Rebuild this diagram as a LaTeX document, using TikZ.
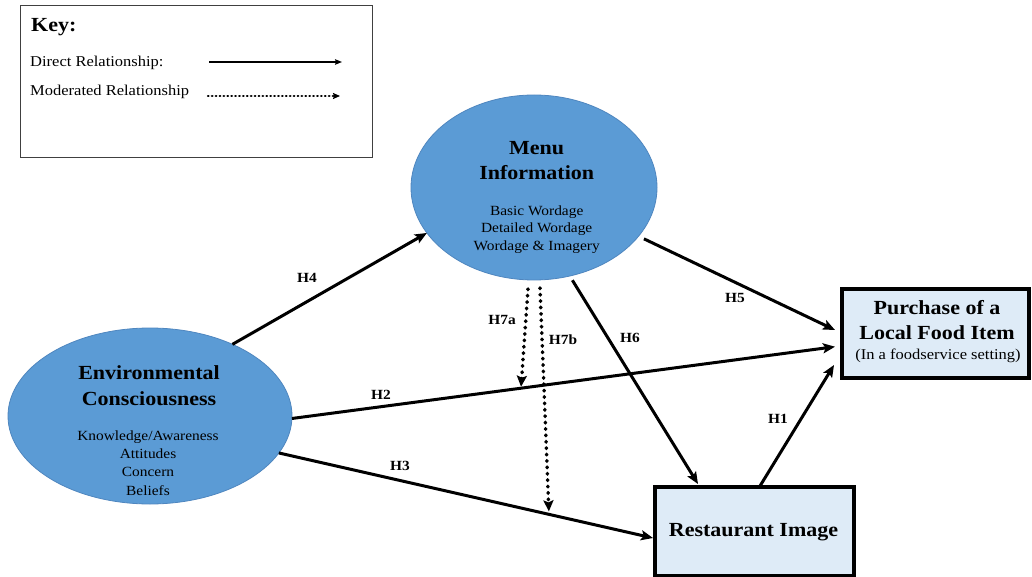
\documentclass[tikz,border=0pt]{standalone}
\usepackage{fontspec}
\setmainfont{Liberation Serif}[FakeStretch=1.1]
\usetikzlibrary{shapes.geometric,arrows.meta,calc}
\definecolor{ellfill}{HTML}{5B9BD5}
\definecolor{elldraw}{HTML}{4F86BF}
\definecolor{boxfill}{HTML}{DEEBF7}
\begin{document}
\begin{tikzpicture}[x=1pt,y=-1pt,
  ell/.style={ellipse, fill=ellfill, draw=elldraw, line width=0.8pt, inner sep=0pt, outer sep=0pt},
  box/.style={rectangle, fill=boxfill, draw=black, line width=3.2pt, inner sep=0pt, outer sep=0pt},
  keybox/.style={rectangle, draw=black!75, line width=1pt, inner sep=0pt, outer sep=0pt},
  ttl/.style={font=\fontsize{20}{25}\selectfont\bfseries, align=center, inner sep=0pt},
  subtxt/.style={font=\fontsize{14}{17.5}\selectfont, align=center, inner sep=0pt},
  hlab/.style={font=\fontsize{14}{14}\selectfont\bfseries, inner sep=0pt},
  keytxt/.style={font=\fontsize{15}{15}\selectfont, anchor=base west, inner sep=0pt},
  rel/.style={line width=3pt, -{Stealth[length=12pt,width=10pt,inset=2.5pt]}},
  mod/.style={line width=3.6pt, line cap=round, dash pattern=on 0.6pt off 5.8pt, -{Stealth[length=11pt,width=10pt,inset=2pt]}},
  keyrel/.style={line width=1.2pt, -{Stealth[length=7pt,width=5.5pt,inset=1pt]}},
  keymod/.style={line width=2.4pt, line cap=round, dash pattern=on 0.5pt off 3.4pt, -{Stealth[length=7pt,width=6pt,inset=1pt]}},
]
\useasboundingbox (0,0) rectangle (1032,577);

% Key
\node[keybox, minimum width=352pt, minimum height=152pt] (key) at (196.7,82) {};
\node[font=\fontsize{20}{20}\selectfont\bfseries, anchor=base west, inner sep=0pt] (keyttl) at (31,31.8) {Key:};
\node[keytxt] (keyd) at (30,66.5) {Direct Relationship:};
\node[keytxt] (keym) at (30,95.5) {Moderated Relationship};
\coordinate (kds) at (209,62);
\coordinate (kde) at (342,62);
\coordinate (kms) at (208,96);
\coordinate (kme) at (340,96);
\draw[keyrel] (kds) -- (kde);
\draw[keymod] (kms) -- (kme);

% Ellipses
\node[ell, minimum width=246pt, minimum height=185pt] (menu) at (534,187.5) {};
\node[ttl] (menuttl) at (536.7,160.5) {Menu\\Information};
\node[subtxt] (menusub) at (536.7,229.5) {Basic Wordage\\Detailed Wordage\\Wordage \& Imagery};

\node[ell, minimum width=284pt, minimum height=176pt] (env) at (150,416) {};
\node[ttl, font=\fontsize{20}{26.6}\selectfont\bfseries] (envttl) at (149,385.5) {Environmental\\Consciousness};
\node[subtxt, font=\fontsize{14}{18.3}\selectfont] (envsub) at (148,463) {Knowledge/Awareness\\Attitudes\\Concern\\Beliefs};

% Boxes
\node[box, minimum width=187pt, minimum height=89pt] (purchase) at (935.5,333.5) {};
\node[ttl, font=\fontsize{20}{24.3}\selectfont\bfseries] (purttl) at (937,320) {Purchase of a\\Local Food Item};
\node[font=\fontsize{15}{15}\selectfont, inner sep=0pt] (pursub) at (938,355.5) {(In a foodservice setting)};

\node[box, minimum width=199pt, minimum height=89pt] (rest) at (754.5,531.5) {};
\node[ttl] (restttl) at (753.5,531.7) {Restaurant Image};

% Direct relationships
\draw[rel] (env.41) -- (menu.203);
\draw[rel, shorten <=6pt] (menu.-25) -- ([shift={(-7,-3.5)}]purchase.west);
\draw[rel] (env.-1) -- coordinate[pos=0.4217] (h2m) ([shift={(-7,13.2)}]purchase.west);
\draw[rel] (env.-16) -- coordinate[pos=0.722] (h3m) ([shift={(-2,6.5)}]rest.west);
\draw[rel, shorten <=5pt] (menu.-68) -- ([shift={(-56.5,-3)}]rest.north);
\draw[rel] ([shift={(5.5,-1)}]rest.north) -- ([shift={(-8,31.5)}]purchase.west);

% Moderated relationships
\draw[mod, shorten >=1.5pt] ([shift={(-6,9)}]menu.south) -- (h2m);
\draw[mod, shorten >=3pt] ([shift={(6,8)}]menu.south) -- (h3m);

% Labels
\node[hlab] (l4) at (307,278) {H4};
\node[hlab] (l5) at (735,298) {H5};
\node[hlab] (l6) at (630,338) {H6};
\node[hlab] (l7a) at (502,320) {H7a};
\node[hlab] (l7b) at (563,340) {H7b};
\node[hlab] (l2) at (381,395) {H2};
\node[hlab] (l3) at (400,466) {H3};
\node[hlab] (l1) at (778,419) {H1};
\end{tikzpicture}
\end{document}
